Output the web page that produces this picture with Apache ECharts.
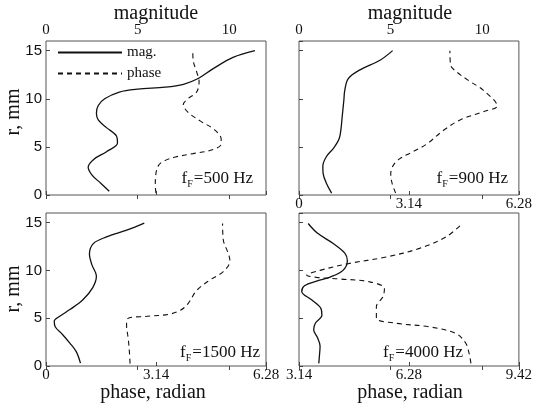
<!DOCTYPE html>
<html><head><meta charset="utf-8">
<script src="https://cdn.jsdelivr.net/npm/echarts@6/dist/echarts.min.js"></script>
<style>html,body{margin:0;padding:0;background:#fff}#c{width:535px;height:406px}</style>
</head><body><div id="c"></div>
<script>
// panel frequencies
const freqs = ['500', '900', '1500', '4000'];
// [magnitude, r(mm)]
const mag500 = [[3.45,0.4],[3.0,1.2],[2.5,2.1],[2.3,2.9],[2.6,3.7],[3.3,4.5],[3.9,5.4],[3.85,6.1],[3.3,7.0],[2.85,7.8],[2.75,8.5],[2.85,9.3],[3.2,10.0],[4.0,10.7],[5.0,11.0],[6.5,11.2],[7.5,11.5],[8.3,12.1],[9.1,13.1],[10.2,14.3],[11.4,15.0]];
// [phase(rad), r(mm)]
const phase500 = [[3.14,0.2],[3.12,1.0],[3.13,2.0],[3.2,3.0],[3.35,3.5],[3.7,3.95],[4.2,4.3],[4.75,4.7],[5.0,5.3],[5.0,5.8],[4.8,6.8],[4.4,7.7],[4.05,8.6],[3.92,9.4],[4.05,10.0],[4.3,10.7],[4.37,11.8],[4.3,12.8],[4.2,14.0],[4.19,15.0]];
const mag900 = [[1.78,0.2],[1.5,1.2],[1.32,2.2],[1.3,3.0],[1.5,4.0],[1.9,4.9],[2.2,5.9],[2.3,7.0],[2.35,8.0],[2.45,9.9],[2.5,10.9],[2.69,12.1],[3.33,13.0],[4.42,14.0],[5.11,15.0]];
const phase900 = [[2.76,0.2],[2.66,1.2],[2.62,2.2],[2.68,3.0],[2.85,3.7],[3.2,4.4],[3.65,5.3],[4.12,6.7],[4.6,7.8],[5.26,8.65],[5.66,9.25],[5.26,10.9],[4.88,11.8],[4.5,12.8],[4.33,13.5],[4.31,15.0]];
const mag1500 = [[1.88,0.3],[1.65,1.5],[1.3,2.4],[0.9,3.3],[0.5,4.1],[0.45,4.7],[0.75,5.2],[1.3,5.9],[2.0,6.9],[2.55,8.2],[2.75,9.4],[2.5,10.6],[2.37,11.7],[2.58,12.8],[3.3,13.5],[4.4,14.2],[5.36,14.95]];
const phase1500 = [[2.4,0.25],[2.38,1.5],[2.35,2.8],[2.3,4.3],[2.33,4.95],[2.9,5.2],[3.5,5.4],[3.85,5.85],[4.06,6.55],[4.3,7.9],[4.68,9.0],[5.06,9.86],[5.25,11.0],[5.2,11.8],[5.06,13.2],[5.04,14.9]];
const mag4000 = [[1.08,0.28],[1.12,1.2],[1.15,2.1],[1.0,3.0],[0.8,3.8],[0.9,4.5],[1.25,5.3],[1.2,6.0],[0.7,6.9],[0.15,7.8],[0.3,8.4],[1.0,8.9],[1.7,9.3],[2.4,10.0],[2.64,11.0],[2.5,11.8],[1.87,12.8],[1.0,13.9],[0.5,14.9]];
const phase4000 = [[8.05,0.28],[8.0,1.3],[7.9,2.4],[7.62,3.4],[6.86,4.1],[5.92,4.47],[5.35,5.0],[5.35,6.2],[5.54,7.25],[5.58,8.1],[5.16,8.8],[4.31,9.1],[3.64,9.27],[3.36,9.5],[3.74,10.0],[4.54,10.7],[5.63,11.4],[6.58,12.3],[7.34,13.5],[7.79,14.85]];
// axis ranges / ticks
const rRange = [0, 16], rStep = 5;
const magRange = [0, 12], magStep = 5;
const phaseRanges = [[0, 6.28], [0, 6.28], [0, 6.28], [3.14, 9.42]];
const phaseStep = 3.14;
const magNames = ['mag.', 'phase'];

const SERIF = '"Liberation Serif","Times New Roman",serif';
const SANS = '"Liberation Sans",Arial,sans-serif';
const INK = '#111';

const grids = [
  {left: 46, top: 41, width: 220, height: 154},
  {left: 299, top: 41, width: 220, height: 154},
  {left: 46, top: 213, width: 220, height: 153},
  {left: 299, top: 213, width: 221, height: 153}
].map(g => Object.assign({show: true, borderColor: '#555', borderWidth: 1, containLabel: false}, g));

const showMagLabels = [true, true, false, false];
const showPhaseLabels = [false, true, true, true];
const showRLabels = [true, false, true, false];

function fmtPhase(v){ return Math.abs(v) < 1e-9 ? '0' : v.toFixed(2); }

const xAxis = [], yAxis = [];
for (let i = 0; i < 4; i++) {
  xAxis.push({
    type: 'value', gridIndex: i, position: 'top', min: magRange[0], max: magRange[1], interval: magStep,
    axisLine: {show: false}, splitLine: {show: false},
    axisTick: {show: true, inside: true, length: 4, lineStyle: {color: '#444'}},
    axisLabel: {show: showMagLabels[i], margin: 3, color: INK, fontFamily: SERIF, fontSize: 15, showMaxLabel: false}
  });
  xAxis.push({
    type: 'value', gridIndex: i, position: 'bottom', min: phaseRanges[i][0], max: phaseRanges[i][1], interval: phaseStep,
    axisLine: {show: false}, splitLine: {show: false},
    axisTick: {show: true, inside: true, length: 4, lineStyle: {color: '#444'}},
    axisLabel: {show: showPhaseLabels[i], margin: 2, color: INK, fontFamily: SERIF, fontSize: 15, formatter: fmtPhase}
  });
  yAxis.push({
    type: 'value', gridIndex: i, min: rRange[0], max: rRange[1], interval: rStep,
    axisLine: {show: false}, splitLine: {show: false},
    axisTick: {show: true, inside: true, length: 4, lineStyle: {color: '#444'}},
    axisLabel: {show: showRLabels[i], margin: 4, color: INK, fontFamily: SANS, fontSize: 15, showMaxLabel: false}
  });
}

const magSets = [mag500, mag900, mag1500, mag4000];
const phaseSets = [phase500, phase900, phase1500, phase4000];
const series = [];
for (let i = 0; i < 4; i++) {
  series.push({
    name: magNames[0], type: 'line', xAxisIndex: 2 * i, yAxisIndex: i, data: magSets[i],
    smooth: 0.35, symbol: 'none', silent: true, color: INK,
    lineStyle: {color: INK, width: 1.3, type: 'solid'}
  });
  series.push({
    name: magNames[1], type: 'line', xAxisIndex: 2 * i + 1, yAxisIndex: i, data: phaseSets[i],
    smooth: 0.35, symbol: 'none', silent: true, color: INK,
    lineStyle: {color: INK, width: 1.1, type: [5, 4]}
  });
}

const freqPos = [[253, 180], [508, 180], [260, 354], [463, 354]];
const graphic = [];
freqs.forEach((f, i) => {
  graphic.push({
    type: 'text', right: 535 - freqPos[i][0], top: freqPos[i][1] - 11,
    style: {
      text: '{m|f}{s|F}{m|=' + f + ' Hz}',
      rich: {
        m: {fontFamily: SERIF, fontSize: 17, fill: INK, lineHeight: 20},
        s: {fontFamily: SERIF, fontSize: 10, fill: INK, padding: [10, 1, 0, 0], lineHeight: 20}
      }
    }
  });
});
[[156, 14, 'magnitude'], [410, 14, 'magnitude'], [153, 393, 'phase, radian'], [410, 393, 'phase, radian']].forEach(t => {
  graphic.push({type: 'text', x: t[0], y: t[1], style: {text: t[2], font: '20px ' + SERIF, fill: INK, align: 'center', verticalAlign: 'middle'}});
});
[[14, 112], [14, 289]].forEach(p => {
  graphic.push({type: 'text', x: p[0], y: p[1], rotation: Math.PI / 2, style: {text: 'r, mm', font: '20px ' + SERIF, fill: INK, align: 'center', verticalAlign: 'middle'}});
});

const chart = echarts.init(document.getElementById('c'), null, {renderer: 'canvas'});
chart.setOption({
  animation: false,
  backgroundColor: '#fff',
  grid: grids,
  xAxis: xAxis,
  yAxis: yAxis,
  legend: {
    data: magNames, orient: 'vertical', left: 57, top: 45, padding: 0, itemWidth: 64, itemHeight: 12, itemGap: 6,
    selectedMode: false,
    itemStyle: {opacity: 0},
    textStyle: {fontFamily: SERIF, fontSize: 15, color: INK}
  },
  series: series,
  graphic: graphic
});
</script></body></html>
